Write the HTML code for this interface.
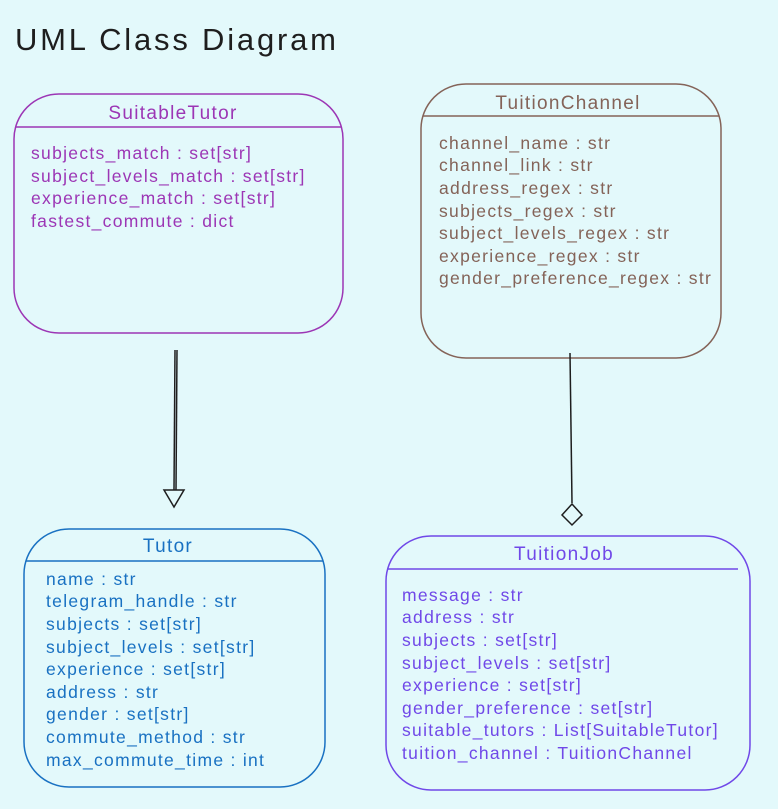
<!DOCTYPE html>
<html><head><meta charset="utf-8"><style>
html,body{margin:0;padding:0;background:#e3f9fb;}
svg{display:block}
text{font-family:"Liberation Sans",sans-serif;font-size:17.5px;letter-spacing:1.3px}
</style></head><body>
<svg width="778" height="809" viewBox="0 0 778 809" xmlns="http://www.w3.org/2000/svg">
<rect width="778" height="809" fill="#e3f9fb"/>
<text x="15" y="50" style="font-size:31px;letter-spacing:2.8px" fill="#1e1e1e">UML Class Diagram</text>

<!-- SuitableTutor -->
<g stroke="#9c36b5" fill="none" stroke-width="1.5">
<rect x="14" y="94" width="329" height="239" rx="45"/>
<line x1="16" y1="127" x2="341" y2="127"/>
</g>
<g fill="#9c36b5">
<text x="173" y="119" text-anchor="middle" style="font-size:19px;letter-spacing:1.3px">SuitableTutor</text>
<text x="31" y="159">subjects_match : set[str]</text>
<text x="31" y="182">subject_levels_match : set[str]</text>
<text x="31" y="204">experience_match : set[str]</text>
<text x="31" y="227">fastest_commute : dict</text>
</g>

<!-- TuitionChannel -->
<g stroke="#846358" fill="none" stroke-width="1.5">
<rect x="421" y="84" width="300" height="274" rx="45"/>
<line x1="423" y1="116" x2="719" y2="116"/>
</g>
<g fill="#846358">
<text x="568" y="109" text-anchor="middle" style="font-size:19px;letter-spacing:1.3px">TuitionChannel</text>
<text x="439" y="149">channel_name : str</text>
<text x="439" y="171">channel_link : str</text>
<text x="439" y="194">address_regex : str</text>
<text x="439" y="217">subjects_regex : str</text>
<text x="439" y="239">subject_levels_regex : str</text>
<text x="439" y="262">experience_regex : str</text>
<text x="439" y="284">gender_preference_regex : str</text>
</g>

<!-- Tutor -->
<g stroke="#1971c2" fill="none" stroke-width="1.5">
<rect x="24" y="529" width="301" height="258" rx="45"/>
<line x1="26" y1="561" x2="323" y2="561"/>
</g>
<g fill="#1971c2">
<text x="168" y="552" text-anchor="middle" style="font-size:19px;letter-spacing:1.3px">Tutor</text>
<text x="46" y="585">name : str</text>
<text x="46" y="607">telegram_handle : str</text>
<text x="46" y="630">subjects : set[str]</text>
<text x="46" y="653">subject_levels : set[str]</text>
<text x="46" y="675">experience : set[str]</text>
<text x="46" y="698">address : str</text>
<text x="46" y="720">gender : set[str]</text>
<text x="46" y="743">commute_method : str</text>
<text x="46" y="766">max_commute_time : int</text>
</g>

<!-- TuitionJob -->
<g stroke="#7048e8" fill="none" stroke-width="1.5">
<rect x="386" y="536" width="364" height="254" rx="45"/>
<line x1="388" y1="569" x2="738" y2="569"/>
</g>
<g fill="#7048e8">
<text x="564" y="560" text-anchor="middle" style="font-size:19px;letter-spacing:1.3px">TuitionJob</text>
<text x="402" y="601">message : str</text>
<text x="402" y="623">address : str</text>
<text x="402" y="646">subjects : set[str]</text>
<text x="402" y="669">subject_levels : set[str]</text>
<text x="402" y="691">experience : set[str]</text>
<text x="402" y="714">gender_preference : set[str]</text>
<text x="402" y="736">suitable_tutors : List[SuitableTutor]</text>
<text x="402" y="759">tuition_channel : TuitionChannel</text>
</g>

<!-- connectors -->
<g stroke="#1e1e1e" fill="none" stroke-width="1.5">
<line x1="175" y1="350" x2="174" y2="490"/>
<line x1="177" y1="350" x2="176" y2="490"/>
<polygon points="164,490 184,490 174,507"/>
<line x1="570" y1="353" x2="572" y2="503"/>
<polygon points="572,504 582,515 572,525 562,515"/>
</g>
</svg>
</body></html>
